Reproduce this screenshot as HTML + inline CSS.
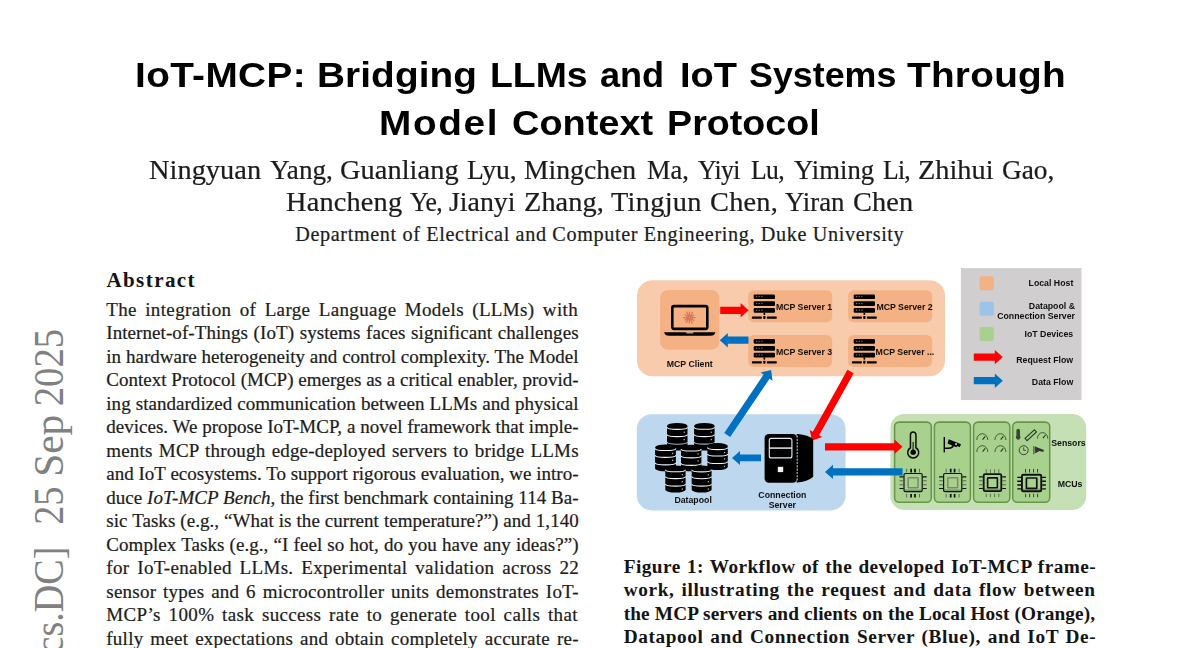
<!DOCTYPE html>
<html><head><meta charset="utf-8"><title>IoT-MCP</title>
<style>
html,body{margin:0;padding:0;background:#fff}
body{width:1200px;height:648px;position:relative;overflow:hidden}
.t{position:absolute;white-space:nowrap}
.r{-webkit-text-stroke:0.22px currentColor}
svg text{font-family:'Liberation Sans',sans-serif;font-weight:700;fill:#111}
</style></head><body>
<svg width="1200" height="648" viewBox="0 0 1200 648" style="position:absolute;left:0;top:0;filter:blur(0.35px)">
<rect x="637" y="280.2" width="308" height="96" rx="15.5" fill="#f8cbad"/>
<rect x="660.1" y="289.9" width="59.3" height="59.8" rx="8" fill="#f4b183"/>
<rect x="748.2" y="290.2" width="84" height="32" rx="5.5" fill="#f4b183"/>
<rect x="848.2" y="290.2" width="84" height="32" rx="5.5" fill="#f4b183"/>
<rect x="748.2" y="334.9" width="84" height="32" rx="5.5" fill="#f4b183"/>
<rect x="848.2" y="334.9" width="84" height="32" rx="5.5" fill="#f4b183"/>
<rect x="636.8" y="414.2" width="208.8" height="96.2" rx="15" fill="#bdd7ee"/>
<rect x="890.4" y="414" width="195.8" height="96" rx="14" fill="#c5e0b4"/>
<rect x="894.6" y="422.1" width="36.7" height="80.2" rx="4.5" fill="#a9d18e" stroke="#67954a" stroke-width="1.55"/>
<rect x="934.4" y="422.1" width="36.0" height="80.2" rx="4.5" fill="#a9d18e" stroke="#67954a" stroke-width="1.55"/>
<rect x="973.6" y="422.1" width="36.2" height="80.2" rx="4.5" fill="#a9d18e" stroke="#67954a" stroke-width="1.55"/>
<rect x="1012.7" y="422.1" width="37.0" height="80.2" rx="4.5" fill="#a9d18e" stroke="#67954a" stroke-width="1.55"/>
<rect x="960.9" y="268.1" width="120.6" height="131.9" fill="#d0cece"/>
<rect x="979.6" y="276.2" width="14.2" height="14" rx="2" fill="#f4b183"/>
<rect x="979.6" y="301.7" width="14.2" height="14" rx="2" fill="#9dc3e6"/>
<rect x="979.6" y="327.1" width="14.2" height="14" rx="2" fill="#a9d18e"/>
<polygon fill="#ff0000" points="973.80,360.70 994.80,360.70 994.80,364.30 1002.80,357.10 994.80,349.90 994.80,353.50 973.80,353.50"/>
<polygon fill="#0070c0" points="973.80,384.30 994.80,384.30 994.80,387.90 1002.80,380.70 994.80,373.50 994.80,377.10 973.80,377.10"/>
<text x="1073.3" y="286.2" font-size="8.75" text-anchor="end">Local Host</text>
<text x="1075" y="308.6" font-size="8.75" text-anchor="end">Datapool &amp;</text>
<text x="1075" y="319.0" font-size="8.75" text-anchor="end">Connection Server</text>
<text x="1073.2" y="337.1" font-size="8.75" text-anchor="end">IoT Devices</text>
<text x="1073.2" y="363.0" font-size="8.75" text-anchor="end">Request Flow</text>
<text x="1073.2" y="385.0" font-size="8.75" text-anchor="end">Data Flow</text>
<polygon fill="#ff0000" points="720.20,313.90 740.60,313.90 740.60,317.50 748.60,310.30 740.60,303.10 740.60,306.70 720.20,306.70"/>
<polygon fill="#0070c0" points="748.50,336.60 727.80,336.60 727.80,333.00 719.80,340.20 727.80,347.40 727.80,343.80 748.50,343.80"/>
<polygon fill="#0070c0" points="730.18,436.92 769.60,378.64 772.58,380.66 771.10,370.00 760.65,372.59 763.64,374.61 724.22,432.88"/>
<polygon fill="#ff0000" points="847.46,369.75 812.85,431.86 809.70,430.11 812.10,440.60 822.28,437.12 819.14,435.36 853.74,373.25"/>
<polygon fill="#0070c0" points="761.00,454.50 740.00,454.50 740.00,450.90 732.00,457.90 740.00,464.90 740.00,461.30 761.00,461.30"/>
<polygon fill="#ff0000" points="825.00,450.40 894.50,450.40 894.50,454.00 902.50,446.80 894.50,439.60 894.50,443.20 825.00,443.20"/>
<polygon fill="#0070c0" points="902.60,468.30 833.00,468.30 833.00,464.70 825.00,471.90 833.00,479.10 833.00,475.50 902.60,475.50"/>
<rect x="753.7" y="294.4" width="21.3" height="4.7" rx="1.2" fill="#000"/>
<rect x="756.0" y="296.09999999999997" width="1.3" height="1.1" fill="#8a6a55"/>
<rect x="758.6" y="296.09999999999997" width="1.3" height="1.1" fill="#8a6a55"/>
<rect x="761.2" y="296.09999999999997" width="1.3" height="1.1" fill="#8a6a55"/>
<rect x="753.7" y="301.29999999999995" width="21.3" height="4.7" rx="1.2" fill="#000"/>
<rect x="756.0" y="302.99999999999994" width="1.3" height="1.1" fill="#8a6a55"/>
<rect x="758.6" y="302.99999999999994" width="1.3" height="1.1" fill="#8a6a55"/>
<rect x="761.2" y="302.99999999999994" width="1.3" height="1.1" fill="#8a6a55"/>
<rect x="753.7" y="308.0" width="21.3" height="4.7" rx="1.2" fill="#000"/>
<rect x="756.0" y="309.7" width="1.3" height="1.1" fill="#8a6a55"/>
<rect x="758.6" y="309.7" width="1.3" height="1.1" fill="#8a6a55"/>
<rect x="761.2" y="309.7" width="1.3" height="1.1" fill="#8a6a55"/>
<rect x="763.5500000000001" y="312.7" width="1.6" height="2.2" fill="#000"/>
<rect x="751.9000000000001" y="316.59999999999997" width="10.0" height="2.1" rx="0.6" fill="#000"/>
<rect x="766.8" y="316.59999999999997" width="10.0" height="2.1" rx="0.6" fill="#000"/>
<rect x="763.25" y="316.0" width="2.2" height="3.0" rx="0.6" fill="#000"/>
<rect x="853.7" y="294.4" width="21.3" height="4.7" rx="1.2" fill="#000"/>
<rect x="856.0" y="296.09999999999997" width="1.3" height="1.1" fill="#8a6a55"/>
<rect x="858.6" y="296.09999999999997" width="1.3" height="1.1" fill="#8a6a55"/>
<rect x="861.2" y="296.09999999999997" width="1.3" height="1.1" fill="#8a6a55"/>
<rect x="853.7" y="301.29999999999995" width="21.3" height="4.7" rx="1.2" fill="#000"/>
<rect x="856.0" y="302.99999999999994" width="1.3" height="1.1" fill="#8a6a55"/>
<rect x="858.6" y="302.99999999999994" width="1.3" height="1.1" fill="#8a6a55"/>
<rect x="861.2" y="302.99999999999994" width="1.3" height="1.1" fill="#8a6a55"/>
<rect x="853.7" y="308.0" width="21.3" height="4.7" rx="1.2" fill="#000"/>
<rect x="856.0" y="309.7" width="1.3" height="1.1" fill="#8a6a55"/>
<rect x="858.6" y="309.7" width="1.3" height="1.1" fill="#8a6a55"/>
<rect x="861.2" y="309.7" width="1.3" height="1.1" fill="#8a6a55"/>
<rect x="863.5500000000001" y="312.7" width="1.6" height="2.2" fill="#000"/>
<rect x="851.9000000000001" y="316.59999999999997" width="10.0" height="2.1" rx="0.6" fill="#000"/>
<rect x="866.8" y="316.59999999999997" width="10.0" height="2.1" rx="0.6" fill="#000"/>
<rect x="863.25" y="316.0" width="2.2" height="3.0" rx="0.6" fill="#000"/>
<rect x="753.7" y="339.1" width="21.3" height="4.7" rx="1.2" fill="#000"/>
<rect x="756.0" y="340.8" width="1.3" height="1.1" fill="#8a6a55"/>
<rect x="758.6" y="340.8" width="1.3" height="1.1" fill="#8a6a55"/>
<rect x="761.2" y="340.8" width="1.3" height="1.1" fill="#8a6a55"/>
<rect x="753.7" y="346.0" width="21.3" height="4.7" rx="1.2" fill="#000"/>
<rect x="756.0" y="347.7" width="1.3" height="1.1" fill="#8a6a55"/>
<rect x="758.6" y="347.7" width="1.3" height="1.1" fill="#8a6a55"/>
<rect x="761.2" y="347.7" width="1.3" height="1.1" fill="#8a6a55"/>
<rect x="753.7" y="352.70000000000005" width="21.3" height="4.7" rx="1.2" fill="#000"/>
<rect x="756.0" y="354.40000000000003" width="1.3" height="1.1" fill="#8a6a55"/>
<rect x="758.6" y="354.40000000000003" width="1.3" height="1.1" fill="#8a6a55"/>
<rect x="761.2" y="354.40000000000003" width="1.3" height="1.1" fill="#8a6a55"/>
<rect x="763.5500000000001" y="357.40000000000003" width="1.6" height="2.2" fill="#000"/>
<rect x="751.9000000000001" y="361.3" width="10.0" height="2.1" rx="0.6" fill="#000"/>
<rect x="766.8" y="361.3" width="10.0" height="2.1" rx="0.6" fill="#000"/>
<rect x="763.25" y="360.70000000000005" width="2.2" height="3.0" rx="0.6" fill="#000"/>
<rect x="853.7" y="339.1" width="21.3" height="4.7" rx="1.2" fill="#000"/>
<rect x="856.0" y="340.8" width="1.3" height="1.1" fill="#8a6a55"/>
<rect x="858.6" y="340.8" width="1.3" height="1.1" fill="#8a6a55"/>
<rect x="861.2" y="340.8" width="1.3" height="1.1" fill="#8a6a55"/>
<rect x="853.7" y="346.0" width="21.3" height="4.7" rx="1.2" fill="#000"/>
<rect x="856.0" y="347.7" width="1.3" height="1.1" fill="#8a6a55"/>
<rect x="858.6" y="347.7" width="1.3" height="1.1" fill="#8a6a55"/>
<rect x="861.2" y="347.7" width="1.3" height="1.1" fill="#8a6a55"/>
<rect x="853.7" y="352.70000000000005" width="21.3" height="4.7" rx="1.2" fill="#000"/>
<rect x="856.0" y="354.40000000000003" width="1.3" height="1.1" fill="#8a6a55"/>
<rect x="858.6" y="354.40000000000003" width="1.3" height="1.1" fill="#8a6a55"/>
<rect x="861.2" y="354.40000000000003" width="1.3" height="1.1" fill="#8a6a55"/>
<rect x="863.5500000000001" y="357.40000000000003" width="1.6" height="2.2" fill="#000"/>
<rect x="851.9000000000001" y="361.3" width="10.0" height="2.1" rx="0.6" fill="#000"/>
<rect x="866.8" y="361.3" width="10.0" height="2.1" rx="0.6" fill="#000"/>
<rect x="863.25" y="360.70000000000005" width="2.2" height="3.0" rx="0.6" fill="#000"/>
<text x="775.9" y="309.8" font-size="8.75" text-anchor="start">MCP Server 1</text>
<text x="876.4" y="309.8" font-size="8.75" text-anchor="start">MCP Server 2</text>
<text x="775.9" y="354.5" font-size="8.75" text-anchor="start">MCP Server 3</text>
<text x="875.6" y="354.5" font-size="8.75" text-anchor="start">MCP Server ...</text>
<rect x="672.3" y="306.1" width="35" height="22.8" rx="1.8" fill="none" stroke="#000" stroke-width="2.6"/>
<path d="M664.1,332.3 H715.4 Q714.6,335.8 710.5,335.8 H669 Q664.9,335.8 664.1,332.3 Z" fill="#000"/>
<rect x="686.3" y="332.3" width="7" height="1.1" fill="#f8cbad"/>
<path d="M690.40,317.60 L695.20,317.60 M690.25,318.13 L693.81,320.36 M689.87,318.48 L692.26,322.99 M689.40,318.60 L689.40,323.00 M688.87,318.45 L686.22,322.69 M688.53,318.10 L684.98,320.15 M688.40,317.60 L683.50,317.60 M688.55,317.07 L684.91,314.79 M688.95,316.71 L686.63,312.16 M689.40,316.60 L689.40,312.10 M689.90,316.73 L692.40,312.40 M690.27,317.10 L693.73,315.10" stroke="#d9775a" stroke-width="1.3" stroke-linecap="round" fill="none"/>
<text x="666.7" y="367.0" font-size="8.75" text-anchor="start">MCP Client</text>
<path d="M667.0,425.9 a10.25,2.9 0 0 1 20.5,0 V447.70000000000005 a10.25,2.9 0 0 1 -20.5,0 Z" fill="#000"/>
<path d="M667.1,427.20 a10.15,2.1 0 0 0 20.3,0" fill="none" stroke="#eef3f8" stroke-width="1.15"/>
<rect x="683.6" y="431.60" width="1.2" height="1.3" fill="#b4bcc6"/>
<path d="M667.1,434.50 a10.15,2.1 0 0 0 20.3,0" fill="none" stroke="#eef3f8" stroke-width="1.15"/>
<rect x="683.6" y="438.90" width="1.2" height="1.3" fill="#b4bcc6"/>
<path d="M667.1,442.10 a10.15,2.1 0 0 0 20.3,0" fill="none" stroke="#9fb0c2" stroke-width="1.15"/>
<path d="M694.1,425.9 a10.25,2.9 0 0 1 20.5,0 V447.70000000000005 a10.25,2.9 0 0 1 -20.5,0 Z" fill="#000"/>
<path d="M694.2,427.20 a10.15,2.1 0 0 0 20.3,0" fill="none" stroke="#eef3f8" stroke-width="1.15"/>
<rect x="710.7" y="431.60" width="1.2" height="1.3" fill="#b4bcc6"/>
<path d="M694.2,434.50 a10.15,2.1 0 0 0 20.3,0" fill="none" stroke="#eef3f8" stroke-width="1.15"/>
<rect x="710.7" y="438.90" width="1.2" height="1.3" fill="#b4bcc6"/>
<path d="M694.2,442.10 a10.15,2.1 0 0 0 20.3,0" fill="none" stroke="#9fb0c2" stroke-width="1.15"/>
<path d="M681.0,447.59999999999997 a10.2,2.9 0 0 1 20.4,0 V468.40000000000003 a10.2,2.9 0 0 1 -20.4,0 Z" fill="#000"/>
<path d="M681.1,448.90 a10.1,2.1 0 0 0 20.2,0" fill="none" stroke="#eef3f8" stroke-width="1.15"/>
<rect x="697.5" y="453.30" width="1.2" height="1.3" fill="#b4bcc6"/>
<path d="M681.1,455.80 a10.1,2.1 0 0 0 20.2,0" fill="none" stroke="#eef3f8" stroke-width="1.15"/>
<rect x="697.5" y="460.20" width="1.2" height="1.3" fill="#b4bcc6"/>
<path d="M681.1,463.20 a10.1,2.1 0 0 0 20.2,0" fill="none" stroke="#eef3f8" stroke-width="1.15"/>
<rect x="697.5" y="467.60" width="1.2" height="1.3" fill="#b4bcc6"/>
<path d="M655.1,447.4 a10.4,2.9 0 0 1 20.8,0 V468.40000000000003 a10.4,2.9 0 0 1 -20.8,0 Z" fill="#000"/>
<path d="M655.2,448.40 a10.3,2.1 0 0 0 20.6,0" fill="none" stroke="#eef3f8" stroke-width="1.15"/>
<rect x="672.0" y="452.80" width="1.2" height="1.3" fill="#b4bcc6"/>
<path d="M655.2,455.30 a10.3,2.1 0 0 0 20.6,0" fill="none" stroke="#eef3f8" stroke-width="1.15"/>
<rect x="672.0" y="459.70" width="1.2" height="1.3" fill="#b4bcc6"/>
<path d="M655.2,462.80 a10.3,2.1 0 0 0 20.6,0" fill="none" stroke="#eef3f8" stroke-width="1.15"/>
<rect x="672.0" y="467.20" width="1.2" height="1.3" fill="#b4bcc6"/>
<path d="M707.4,446.0 a10.2,2.9 0 0 1 20.4,0 V467.1 a10.2,2.9 0 0 1 -20.4,0 Z" fill="#000"/>
<path d="M707.5,447.50 a10.1,2.1 0 0 0 20.2,0" fill="none" stroke="#eef3f8" stroke-width="1.15"/>
<rect x="723.9" y="451.90" width="1.2" height="1.3" fill="#b4bcc6"/>
<path d="M707.5,453.90 a10.1,2.1 0 0 0 20.2,0" fill="none" stroke="#eef3f8" stroke-width="1.15"/>
<rect x="723.9" y="458.30" width="1.2" height="1.3" fill="#b4bcc6"/>
<path d="M707.5,461.40 a10.1,2.1 0 0 0 20.2,0" fill="none" stroke="#eef3f8" stroke-width="1.15"/>
<rect x="723.9" y="465.80" width="1.2" height="1.3" fill="#b4bcc6"/>
<path d="M665.3,468.4 a10.15,2.9 0 0 1 20.3,0 V489.70000000000005 a10.15,2.9 0 0 1 -20.3,0 Z" fill="#000"/>
<path d="M665.4,469.70 a10.05,2.1 0 0 0 20.1,0" fill="none" stroke="#eef3f8" stroke-width="1.15"/>
<rect x="681.6999999999999" y="474.10" width="1.2" height="1.3" fill="#b4bcc6"/>
<path d="M665.4,476.60 a10.05,2.1 0 0 0 20.1,0" fill="none" stroke="#eef3f8" stroke-width="1.15"/>
<rect x="681.6999999999999" y="481.00" width="1.2" height="1.3" fill="#b4bcc6"/>
<path d="M665.4,484.00 a10.05,2.1 0 0 0 20.1,0" fill="none" stroke="#eef3f8" stroke-width="1.15"/>
<rect x="681.6999999999999" y="488.40" width="1.2" height="1.3" fill="#b4bcc6"/>
<path d="M691.7,468.4 a9.95,2.9 0 0 1 19.9,0 V489.70000000000005 a9.95,2.9 0 0 1 -19.9,0 Z" fill="#000"/>
<path d="M691.8000000000001,469.70 a9.85,2.1 0 0 0 19.7,0" fill="none" stroke="#eef3f8" stroke-width="1.15"/>
<rect x="707.7" y="474.10" width="1.2" height="1.3" fill="#b4bcc6"/>
<path d="M691.8000000000001,476.60 a9.85,2.1 0 0 0 19.7,0" fill="none" stroke="#eef3f8" stroke-width="1.15"/>
<rect x="707.7" y="481.00" width="1.2" height="1.3" fill="#b4bcc6"/>
<path d="M691.8000000000001,484.00 a9.85,2.1 0 0 0 19.7,0" fill="none" stroke="#eef3f8" stroke-width="1.15"/>
<rect x="707.7" y="488.40" width="1.2" height="1.3" fill="#b4bcc6"/>
<text x="674.4" y="502.7" font-size="8.75" text-anchor="start">Datapool</text>
<rect x="764.6" y="434.1" width="32.4" height="48.6" rx="4.2" fill="#000"/>
<path d="M796.6,434.1 H797.9 Q808,435 813.2,439.2 V476.8 Q808,481.5 797.9,482.5 H796.6 Z" fill="#000"/>
<line x1="797.2" y1="435.5" x2="797.2" y2="481.5" stroke="#dfe6ee" stroke-width="0.9" stroke-dasharray="2.2 1.1"/>
<rect x="769.3" y="438.3" width="22.6" height="19.6" rx="2" fill="none" stroke="#e3e9f0" stroke-width="1.15"/>
<line x1="769.3" y1="448.1" x2="791.9" y2="448.1" stroke="#e3e9f0" stroke-width="1.5"/>
<rect x="777.8" y="466.8" width="5.4" height="5.3" fill="#f2f2f2"/>
<text x="782.4" y="497.6" font-size="8.75" text-anchor="middle">Connection</text>
<text x="782.3" y="508.1" font-size="8.75" text-anchor="middle">Server</text>
<path d="M910.45,447.75 V434.8 a2.75,2.75 0 0 1 5.5,0 V447.75 A5.5,5.5 0 1 1 910.45,447.75 Z" fill="none" stroke="#0a0a0a" stroke-width="1.5"/>
<line x1="913.2" y1="452.15" x2="913.2" y2="441.90000000000003" stroke="#3c5530" stroke-width="1.7"/>
<circle cx="913.2" cy="452.15" r="2.7" fill="#000"/>
<g transform="translate(943.6,437.0) scale(1.0)" fill="#000"><rect x="0" y="0" width="1.4" height="15.4"/><path d="M1.4,10.6 H5 Q8,10.6 9,8.2 L10.4,8.8 Q9.2,12 5,12 H1.4 Z"/><path d="M5.2,2.2 L17.4,7.2 L16.2,10 L13.4,8.9 L12.9,10.2 L9.2,8.7 L3.9,6.5 Z"/><circle cx="12.4" cy="7.2" r="1.1" fill="#a9d18e"/></g>
<path d="M976.8,440.0 A5.5,6.3 0 0 1 987.8,440.0" fill="none" stroke="#2c3a22" stroke-width="0.95" opacity="0.85"/>
<line x1="982.5999999999999" y1="439.6" x2="985.1999999999999" y2="436.4" stroke="#2c3a22" stroke-width="1.14"/>
<path d="M976.8,452.0 A5.5,6.3 0 0 1 987.8,452.0" fill="none" stroke="#2c3a22" stroke-width="0.95" opacity="0.85"/>
<line x1="982.5999999999999" y1="451.6" x2="985.1999999999999" y2="448.4" stroke="#2c3a22" stroke-width="1.14"/>
<path d="M994.9,440.0 A5.5,6.3 0 0 1 1005.9,440.0" fill="none" stroke="#2c3a22" stroke-width="0.95" opacity="0.85"/>
<line x1="1000.6999999999999" y1="439.6" x2="1003.3" y2="436.4" stroke="#2c3a22" stroke-width="1.14"/>
<path d="M994.9,452.0 A5.5,6.3 0 0 1 1005.9,452.0" fill="none" stroke="#2c3a22" stroke-width="0.95" opacity="0.85"/>
<line x1="1000.6999999999999" y1="451.6" x2="1003.3" y2="448.4" stroke="#2c3a22" stroke-width="1.14"/>
<path d="M1016.4,430.6 a1.8,1.8 0 0 1 3.6,0 V435.8 a2.3,2.3 0 1 1 -3.6,0 Z" fill="#3a4632"/>
<path d="M1025.0,438.4 L1034.4,429.8 L1036.4,431.9 L1027.0,440.6 Z" fill="none" stroke="#2c3a22" stroke-width="1.1"/>
<path d="M1037.3999999999999,438.6 A5.2,6.0 0 0 1 1047.8,438.6" fill="none" stroke="#2c3a22" stroke-width="0.95" opacity="0.85"/>
<line x1="1042.8999999999999" y1="438.20000000000005" x2="1045.5" y2="435.0" stroke="#2c3a22" stroke-width="1.14"/>
<circle cx="1023.7" cy="450.2" r="4.5" fill="none" stroke="#333" stroke-width="0.9"/>
<path d="M1023.7,447.3 V450.4 H1026" fill="none" stroke="#333" stroke-width="0.8"/>
<g fill="#333"><rect x="1033.4" y="446.2" width="1" height="8"/><path d="M1035,446.6 L1044,450.1 L1043.2,452 L1039.5,450.9 L1035.2,453.2 Z"/></g>
<rect x="904.60" y="489.40" width="17.00" height="1.7" fill="#6f8a5e" opacity="0.75"/>
<rect x="904.00" y="473.50" width="18.2" height="18.2" rx="1.4" fill="none" stroke="#111" stroke-width="1.2"/>
<rect x="908.15" y="477.85" width="9.9" height="9.9" rx="0.5" fill="none" stroke="#7a8873" stroke-width="1.5"/>
<path d="M906.60,472.50 v-3.8 M906.60,493.90 v3.5999999999999996" stroke="#55684a" stroke-width="0.9" fill="none"/>
<path d="M911.10,472.50 v-3.8 M911.10,493.90 v3.5999999999999996" stroke="#0c0c0c" stroke-width="1.7" fill="none"/>
<path d="M915.00,472.50 v-3.8 M915.00,493.90 v3.5999999999999996" stroke="#0c0c0c" stroke-width="1.7" fill="none"/>
<path d="M919.50,472.50 v-3.8 M919.50,493.90 v3.5999999999999996" stroke="#55684a" stroke-width="0.9" fill="none"/>
<path d="M903.40,476.90 h-3.9 M922.80,476.90 h3.9" stroke="#0c0c0c" stroke-width="1.1" fill="none"/>
<path d="M903.40,480.80 h-3.9 M922.80,480.80 h3.9" stroke="#55684a" stroke-width="1.0" fill="none"/>
<path d="M903.40,484.70 h-3.9 M922.80,484.70 h3.9" stroke="#55684a" stroke-width="1.0" fill="none"/>
<path d="M903.40,488.50 h-3.9 M922.80,488.50 h3.9" stroke="#0c0c0c" stroke-width="1.1" fill="none"/>
<rect x="944.20" y="489.40" width="17.00" height="1.7" fill="#6f8a5e" opacity="0.75"/>
<rect x="943.60" y="473.50" width="18.2" height="18.2" rx="1.4" fill="none" stroke="#111" stroke-width="1.2"/>
<rect x="947.75" y="477.85" width="9.9" height="9.9" rx="0.5" fill="none" stroke="#7a8873" stroke-width="1.5"/>
<path d="M946.20,472.50 v-3.8 M946.20,493.90 v3.5999999999999996" stroke="#55684a" stroke-width="0.9" fill="none"/>
<path d="M950.70,472.50 v-3.8 M950.70,493.90 v3.5999999999999996" stroke="#0c0c0c" stroke-width="1.7" fill="none"/>
<path d="M954.60,472.50 v-3.8 M954.60,493.90 v3.5999999999999996" stroke="#0c0c0c" stroke-width="1.7" fill="none"/>
<path d="M959.10,472.50 v-3.8 M959.10,493.90 v3.5999999999999996" stroke="#55684a" stroke-width="0.9" fill="none"/>
<path d="M943.00,476.90 h-3.9 M962.40,476.90 h3.9" stroke="#0c0c0c" stroke-width="1.1" fill="none"/>
<path d="M943.00,480.80 h-3.9 M962.40,480.80 h3.9" stroke="#55684a" stroke-width="1.0" fill="none"/>
<path d="M943.00,484.70 h-3.9 M962.40,484.70 h3.9" stroke="#55684a" stroke-width="1.0" fill="none"/>
<path d="M943.00,488.50 h-3.9 M962.40,488.50 h3.9" stroke="#0c0c0c" stroke-width="1.1" fill="none"/>
<rect x="984.60" y="488.50" width="15.80" height="1.7" fill="#6f8a5e" opacity="0.75"/>
<rect x="983.70" y="474.10" width="17.6" height="17.0" rx="1.4" fill="none" stroke="#111" stroke-width="1.8"/>
<rect x="987.60" y="477.90" width="9.8" height="9.8" rx="0.5" fill="none" stroke="#111" stroke-width="1.6"/>
<path d="M986.20,472.90 v-3.7 M986.20,493.60 v3.5" stroke="#55684a" stroke-width="0.9" fill="none"/>
<path d="M990.40,472.90 v-3.7 M990.40,493.60 v3.5" stroke="#55684a" stroke-width="0.9" fill="none"/>
<path d="M994.60,472.90 v-3.7 M994.60,493.60 v3.5" stroke="#55684a" stroke-width="0.9" fill="none"/>
<path d="M998.80,472.90 v-3.7 M998.80,493.60 v3.5" stroke="#55684a" stroke-width="0.9" fill="none"/>
<path d="M982.80,476.90 h-3.8000000000000003 M1002.20,476.90 h3.8000000000000003" stroke="#0c0c0c" stroke-width="1.2" fill="none"/>
<path d="M982.80,480.80 h-3.8000000000000003 M1002.20,480.80 h3.8000000000000003" stroke="#55684a" stroke-width="1.0" fill="none"/>
<path d="M982.80,484.70 h-3.8000000000000003 M1002.20,484.70 h3.8000000000000003" stroke="#55684a" stroke-width="1.0" fill="none"/>
<path d="M982.80,488.50 h-3.8000000000000003 M1002.20,488.50 h3.8000000000000003" stroke="#0c0c0c" stroke-width="1.2" fill="none"/>
<rect x="1022.90" y="488.65" width="17.40" height="1.7" fill="#6f8a5e" opacity="0.75"/>
<rect x="1021.95" y="474.70" width="19.3" height="16.6" rx="1.4" fill="none" stroke="#111" stroke-width="1.9"/>
<rect x="1026.40" y="478.00" width="10.4" height="10.4" rx="0.5" fill="none" stroke="#111" stroke-width="1.7"/>
<path d="M1025.60,472.55 v-3.6 M1025.60,493.85 v3.4" stroke="#333" stroke-width="0.95" fill="none"/>
<path d="M1029.60,472.55 v-3.6 M1029.60,493.85 v3.4" stroke="#333" stroke-width="0.95" fill="none"/>
<path d="M1033.60,472.55 v-3.6 M1033.60,493.85 v3.4" stroke="#333" stroke-width="0.95" fill="none"/>
<path d="M1037.60,472.55 v-3.6 M1037.60,493.85 v3.4" stroke="#333" stroke-width="0.95" fill="none"/>
<path d="M1021.00,477.40 h-3.7 M1042.20,477.40 h3.7" stroke="#0c0c0c" stroke-width="1.35" fill="none"/>
<path d="M1021.00,481.20 h-3.7 M1042.20,481.20 h3.7" stroke="#0c0c0c" stroke-width="1.35" fill="none"/>
<path d="M1021.00,485.00 h-3.7 M1042.20,485.00 h3.7" stroke="#0c0c0c" stroke-width="1.35" fill="none"/>
<path d="M1021.00,488.80 h-3.7 M1042.20,488.80 h3.7" stroke="#0c0c0c" stroke-width="1.35" fill="none"/>
<text x="1051.2" y="445.5" font-size="8.75" text-anchor="start">Sensors</text>
<text x="1057.7" y="487.2" font-size="8.75" text-anchor="start">MCUs</text>
</svg>
<div class="t r" style="left:106.30px;top:297.94px;font-family:'Liberation Serif', serif;font-weight:400;font-size:19.0px;line-height:24.7px;color:#1c1c1c;letter-spacing:0.350px;word-spacing:3.259px;">The integration of Large Language Models (LLMs) with</div>
<div class="t r" style="left:106.30px;top:321.42px;font-family:'Liberation Serif', serif;font-weight:400;font-size:19.0px;line-height:24.7px;color:#1c1c1c;letter-spacing:0.071px;word-spacing:0.853px;">Internet-of-Things (IoT) systems faces significant challenges</div>
<div class="t r" style="left:106.30px;top:344.90px;font-family:'Liberation Serif', serif;font-weight:400;font-size:19.0px;line-height:24.7px;color:#1c1c1c;letter-spacing:0.009px;word-spacing:0.073px;">in hardware heterogeneity and control complexity. The Model</div>
<div class="t r" style="left:106.30px;top:368.38px;font-family:'Liberation Serif', serif;font-weight:400;font-size:19.0px;line-height:24.7px;color:#1c1c1c;letter-spacing:0.009px;word-spacing:0.069px;">Context Protocol (MCP) emerges as a critical enabler, provid-</div>
<div class="t r" style="left:106.30px;top:391.86px;font-family:'Liberation Serif', serif;font-weight:400;font-size:19.0px;line-height:24.7px;color:#1c1c1c;letter-spacing:0.033px;word-spacing:0.303px;">ing standardized communication between LLMs and physical</div>
<div class="t r" style="left:106.30px;top:415.34px;font-family:'Liberation Serif', serif;font-weight:400;font-size:19.0px;line-height:24.7px;color:#1c1c1c;letter-spacing:0.008px;word-spacing:0.060px;">devices. We propose IoT-MCP, a novel framework that imple-</div>
<div class="t r" style="left:106.30px;top:438.82px;font-family:'Liberation Serif', serif;font-weight:400;font-size:19.0px;line-height:24.7px;color:#1c1c1c;letter-spacing:0.176px;word-spacing:1.332px;">ments MCP through edge-deployed servers to bridge LLMs</div>
<div class="t r" style="left:106.30px;top:462.30px;font-family:'Liberation Serif', serif;font-weight:400;font-size:19.0px;line-height:24.7px;color:#1c1c1c;letter-spacing:0.003px;word-spacing:0.025px;">and IoT ecosystems. To support rigorous evaluation, we intro-</div>
<div class="t r" style="left:106.30px;top:485.78px;font-family:'Liberation Serif', serif;font-weight:400;font-size:19.0px;line-height:24.7px;color:#1c1c1c;letter-spacing:0.012px;word-spacing:0.087px;">duce <i>IoT-MCP Bench</i>, the first benchmark containing 114 Ba-</div>
<div class="t r" style="left:106.30px;top:509.26px;font-family:'Liberation Serif', serif;font-weight:400;font-size:19.0px;line-height:24.7px;color:#1c1c1c;letter-spacing:0.033px;word-spacing:0.223px;">sic Tasks (e.g., “What is the current temperature?”) and 1,140</div>
<div class="t r" style="left:106.30px;top:532.74px;font-family:'Liberation Serif', serif;font-weight:400;font-size:19.0px;line-height:24.7px;color:#1c1c1c;letter-spacing:0.058px;word-spacing:0.316px;">Complex Tasks (e.g., “I feel so hot, do you have any ideas?”)</div>
<div class="t r" style="left:106.30px;top:556.22px;font-family:'Liberation Serif', serif;font-weight:400;font-size:19.0px;line-height:24.7px;color:#1c1c1c;letter-spacing:0.311px;word-spacing:2.799px;">for IoT-enabled LLMs. Experimental validation across 22</div>
<div class="t r" style="left:106.30px;top:579.70px;font-family:'Liberation Serif', serif;font-weight:400;font-size:19.0px;line-height:24.7px;color:#1c1c1c;letter-spacing:0.228px;word-spacing:1.857px;">sensor types and 6 microcontroller units demonstrates IoT-</div>
<div class="t r" style="left:106.30px;top:603.18px;font-family:'Liberation Serif', serif;font-weight:400;font-size:19.0px;line-height:24.7px;color:#1c1c1c;letter-spacing:0.350px;word-spacing:2.666px;">MCP’s 100% task success rate to generate tool calls that</div>
<div class="t r" style="left:106.30px;top:626.66px;font-family:'Liberation Serif', serif;font-weight:400;font-size:19.0px;line-height:24.7px;color:#1c1c1c;letter-spacing:0.241px;word-spacing:1.965px;">fully meet expectations and obtain completely accurate re-</div>
<div class="t" style="left:623.80px;top:553.54px;font-family:'Liberation Serif', serif;font-weight:700;font-size:19.3px;line-height:25.09px;color:#141414;letter-spacing:0.432px;word-spacing:1.008px;">Figure 1: Workflow of the developed IoT-MCP frame-</div>
<div class="t" style="left:623.80px;top:577.04px;font-family:'Liberation Serif', serif;font-weight:700;font-size:19.3px;line-height:25.09px;color:#141414;letter-spacing:0.600px;word-spacing:1.619px;">work, illustrating the request and data flow between</div>
<div class="t" style="left:623.80px;top:600.54px;font-family:'Liberation Serif', serif;font-weight:700;font-size:19.3px;line-height:25.09px;color:#141414;letter-spacing:0.089px;word-spacing:0.177px;">the MCP servers and clients on the Local Host (Orange),</div>
<div class="t" style="left:623.80px;top:624.04px;font-family:'Liberation Serif', serif;font-weight:700;font-size:19.3px;line-height:25.09px;color:#141414;letter-spacing:0.592px;word-spacing:1.381px;">Datapool and Connection Server (Blue), and IoT De-</div>
<div class="t" style="left:134.52px;top:52.12px;font-family:'Liberation Sans', sans-serif;font-weight:700;font-size:35.6px;line-height:46.28px;color:#000;letter-spacing:0.335px;transform-origin:0 0;transform:scaleX(1.0900);">IoT-MCP:</div>
<div class="t" style="left:316.62px;top:52.12px;font-family:'Liberation Sans', sans-serif;font-weight:700;font-size:35.6px;line-height:46.28px;color:#000;letter-spacing:0.073px;transform-origin:0 0;transform:scaleX(1.0900);">Bridging</div>
<div class="t" style="left:489.90px;top:52.12px;font-family:'Liberation Sans', sans-serif;font-weight:700;font-size:35.6px;line-height:46.28px;color:#000;letter-spacing:0.000px;transform-origin:0 0;transform:scaleX(1.0510);">LLMs</div>
<div class="t" style="left:600.29px;top:52.12px;font-family:'Liberation Sans', sans-serif;font-weight:700;font-size:35.6px;line-height:46.28px;color:#000;letter-spacing:-0.000px;transform-origin:0 0;transform:scaleX(1.0143);">and</div>
<div class="t" style="left:679.96px;top:52.12px;font-family:'Liberation Sans', sans-serif;font-weight:700;font-size:35.6px;line-height:46.28px;color:#000;letter-spacing:0.000px;transform-origin:0 0;transform:scaleX(1.0692);">IoT</div>
<div class="t" style="left:748.69px;top:52.12px;font-family:'Liberation Sans', sans-serif;font-weight:700;font-size:35.6px;line-height:46.28px;color:#000;letter-spacing:0.000px;transform-origin:0 0;transform:scaleX(1.0070);">Systems</div>
<div class="t" style="left:907.30px;top:52.12px;font-family:'Liberation Sans', sans-serif;font-weight:700;font-size:35.6px;line-height:46.28px;color:#000;letter-spacing:0.223px;transform-origin:0 0;transform:scaleX(1.0900);">Through</div>
<div class="t" style="left:379.32px;top:99.62px;font-family:'Liberation Sans', sans-serif;font-weight:700;font-size:35.6px;line-height:46.28px;color:#000;letter-spacing:1.469px;transform-origin:0 0;transform:scaleX(1.0900);">Model</div>
<div class="t" style="left:511.53px;top:99.62px;font-family:'Liberation Sans', sans-serif;font-weight:700;font-size:35.6px;line-height:46.28px;color:#000;letter-spacing:0.000px;transform-origin:0 0;transform:scaleX(1.0662);">Context</div>
<div class="t" style="left:666.88px;top:99.62px;font-family:'Liberation Sans', sans-serif;font-weight:700;font-size:35.6px;line-height:46.28px;color:#000;letter-spacing:0.000px;transform-origin:0 0;transform:scaleX(1.0590);">Protocol</div>
<div class="t r" style="left:149.40px;top:152.74px;font-family:'Liberation Serif', serif;font-weight:400;font-size:27.0px;line-height:35.1px;color:#1c1c1c;letter-spacing:0.036px;transform-origin:0 0;transform:scaleX(1.0500);">Ningyuan</div>
<div class="t r" style="left:270.00px;top:152.74px;font-family:'Liberation Serif', serif;font-weight:400;font-size:27.0px;line-height:35.1px;color:#1c1c1c;letter-spacing:0.000px;transform-origin:0 0;transform:scaleX(1.0035);">Yang,</div>
<div class="t r" style="left:339.95px;top:152.74px;font-family:'Liberation Serif', serif;font-weight:400;font-size:27.0px;line-height:35.1px;color:#1c1c1c;letter-spacing:0.056px;transform-origin:0 0;transform:scaleX(1.0500);">Guanliang</div>
<div class="t r" style="left:467.00px;top:152.74px;font-family:'Liberation Serif', serif;font-weight:400;font-size:27.0px;line-height:35.1px;color:#1c1c1c;letter-spacing:-0.000px;transform-origin:0 0;transform:scaleX(1.0205);">Lyu,</div>
<div class="t r" style="left:524.40px;top:152.74px;font-family:'Liberation Serif', serif;font-weight:400;font-size:27.0px;line-height:35.1px;color:#1c1c1c;letter-spacing:0.000px;transform-origin:0 0;transform:scaleX(1.0238);">Mingchen</div>
<div class="t r" style="left:647.00px;top:152.74px;font-family:'Liberation Serif', serif;font-weight:400;font-size:27.0px;line-height:35.1px;color:#1c1c1c;letter-spacing:0.000px;transform-origin:0 0;transform:scaleX(0.9762);">Ma,</div>
<div class="t r" style="left:698.00px;top:152.74px;font-family:'Liberation Serif', serif;font-weight:400;font-size:27.0px;line-height:35.1px;color:#1c1c1c;letter-spacing:-0.601px;transform-origin:0 0;transform:scaleX(0.9500);">Yiyi</div>
<div class="t r" style="left:751.00px;top:152.74px;font-family:'Liberation Serif', serif;font-weight:400;font-size:27.0px;line-height:35.1px;color:#1c1c1c;letter-spacing:-0.632px;transform-origin:0 0;transform:scaleX(0.9500);">Lu,</div>
<div class="t r" style="left:794.00px;top:152.74px;font-family:'Liberation Serif', serif;font-weight:400;font-size:27.0px;line-height:35.1px;color:#1c1c1c;letter-spacing:0.000px;transform-origin:0 0;transform:scaleX(0.9886);">Yiming</div>
<div class="t r" style="left:883.00px;top:152.74px;font-family:'Liberation Serif', serif;font-weight:400;font-size:27.0px;line-height:35.1px;color:#1c1c1c;letter-spacing:-0.789px;transform-origin:0 0;transform:scaleX(0.9500);">Li,</div>
<div class="t r" style="left:917.95px;top:152.74px;font-family:'Liberation Serif', serif;font-weight:400;font-size:27.0px;line-height:35.1px;color:#1c1c1c;letter-spacing:0.000px;transform-origin:0 0;transform:scaleX(1.0497);">Zhihui</div>
<div class="t r" style="left:1001.99px;top:152.74px;font-family:'Liberation Serif', serif;font-weight:400;font-size:27.0px;line-height:35.1px;color:#1c1c1c;letter-spacing:0.000px;transform-origin:0 0;transform:scaleX(1.0123);">Gao,</div>
<div class="t r" style="left:286.00px;top:185.14px;font-family:'Liberation Serif', serif;font-weight:400;font-size:27.0px;line-height:35.1px;color:#1c1c1c;letter-spacing:0.163px;transform-origin:0 0;transform:scaleX(1.0500);">Hancheng</div>
<div class="t r" style="left:410.00px;top:185.14px;font-family:'Liberation Serif', serif;font-weight:400;font-size:27.0px;line-height:35.1px;color:#1c1c1c;letter-spacing:-0.549px;transform-origin:0 0;transform:scaleX(0.9500);">Ye,</div>
<div class="t r" style="left:449.00px;top:185.14px;font-family:'Liberation Serif', serif;font-weight:400;font-size:27.0px;line-height:35.1px;color:#1c1c1c;letter-spacing:-0.000px;transform-origin:0 0;transform:scaleX(1.0313);">Jianyi</div>
<div class="t r" style="left:523.95px;top:185.14px;font-family:'Liberation Serif', serif;font-weight:400;font-size:27.0px;line-height:35.1px;color:#1c1c1c;letter-spacing:0.060px;transform-origin:0 0;transform:scaleX(1.0500);">Zhang,</div>
<div class="t r" style="left:611.00px;top:185.14px;font-family:'Liberation Serif', serif;font-weight:400;font-size:27.0px;line-height:35.1px;color:#1c1c1c;letter-spacing:0.270px;transform-origin:0 0;transform:scaleX(1.0500);">Tingjun</div>
<div class="t r" style="left:709.95px;top:185.14px;font-family:'Liberation Serif', serif;font-weight:400;font-size:27.0px;line-height:35.1px;color:#1c1c1c;letter-spacing:0.214px;transform-origin:0 0;transform:scaleX(1.0500);">Chen,</div>
<div class="t r" style="left:785.00px;top:185.14px;font-family:'Liberation Serif', serif;font-weight:400;font-size:27.0px;line-height:35.1px;color:#1c1c1c;letter-spacing:0.000px;transform-origin:0 0;transform:scaleX(0.9917);">Yiran</div>
<div class="t r" style="left:852.95px;top:185.14px;font-family:'Liberation Serif', serif;font-weight:400;font-size:27.0px;line-height:35.1px;color:#1c1c1c;letter-spacing:0.087px;transform-origin:0 0;transform:scaleX(1.0500);">Chen</div>
<div class="t r" style="left:295.20px;top:221.35px;font-family:'Liberation Serif', serif;font-weight:400;font-size:20.2px;line-height:26.26px;color:#1c1c1c;letter-spacing:0.634px;">Department of Electrical and Computer Engineering, Duke University</div>
<div class="t" style="left:106.40px;top:267.26px;font-family:'Liberation Serif', serif;font-weight:700;font-size:21.0px;line-height:27.3px;color:#141414;letter-spacing:1.434px;">Abstract</div>
<svg width="120" height="648" viewBox="0 0 120 648" style="position:absolute;left:0;top:0">
<g font-size="38.7" text-anchor="end" style="font-family:'Liberation Serif',serif;font-weight:400;fill:#808080">
<text transform="translate(63,328.9) rotate(-90) scale(1,1.09)" style="font-family:'Liberation Serif',serif;font-weight:400;fill:#808080">2025</text>
<text transform="translate(63,414.7) rotate(-90) scale(1.07,1.09)" style="font-family:'Liberation Serif',serif;font-weight:400;fill:#808080">Sep</text>
<text transform="translate(63,486.5) rotate(-90) scale(0.99,1.09)" style="font-family:'Liberation Serif',serif;font-weight:400;fill:#808080">25</text>
<text transform="translate(63,546.6) rotate(-90) scale(0.985,1.09)" style="font-family:'Liberation Serif',serif;font-weight:400;fill:#808080">arXiv:2510.01260v1 [cs.DC]</text>
</g></svg>
</body></html>
